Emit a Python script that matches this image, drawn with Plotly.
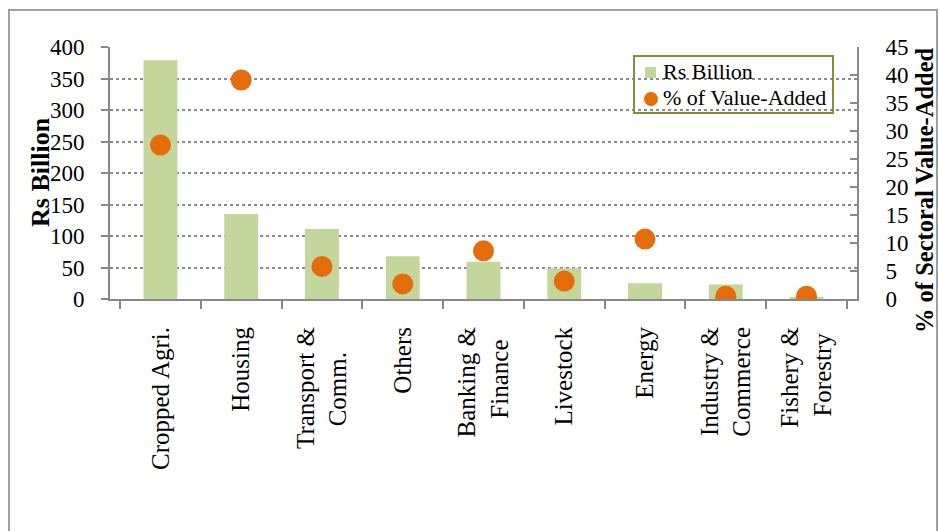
import plotly.graph_objects as go

categories = ["Cropped Agri.", "Housing", "Transport &<br>Comm.\u00a0\u00a0\u00a0\u00a0", "Others",
              "Banking &<br>Finance\u00a0\u00a0", "Livestock", "Energy", "Industry &<br>Commerce",
              "Fishery &<br>Forestry\u00a0"]
rs_billion = [379, 135, 111, 68, 59, 49, 25, 23, 3]
pct_value_added = [27.5, 39.1, 5.8, 2.7, 8.6, 3.2, 10.7, 0.5, 0.5]
left_ticks = [0, 50, 100, 150, 200, 250, 300, 350, 400]
right_ticks = [0, 5, 10, 15, 20, 25, 30, 35, 40, 45]
series_names = ["Rs Billion", "% of Value-Added"]

FONT = "Liberation Serif"
BAR_COLOR = "#C3D69B"
DOT_COLOR = "#E46C0A"

# plot area in pixels
L, R, T, B = 110, 857, 47, 299


def px(x):
    return (x - L) / (R - L)


def py(y):
    return (B - y) / (B - T)


fig = go.Figure()
fig.add_trace(go.Bar(x=categories, y=rs_billion, name=series_names[0],
                     marker=dict(color=BAR_COLOR, line=dict(width=0)), width=0.42))
fig.add_trace(go.Scatter(x=categories, y=pct_value_added, name=series_names[1], mode="markers",
                         marker=dict(color=DOT_COLOR, size=21), yaxis="y2"))

shapes = [
    # outer chart border
    dict(type="rect", xref="paper", yref="paper", x0=px(9), x1=px(937), y0=py(560), y1=py(10),
         line=dict(color="#A0A0A0", width=2), fillcolor="rgba(0,0,0,0)", layer="below"),
    # legend box
    dict(type="rect", xref="paper", yref="paper", x0=px(634), x1=px(833), y0=py(113), y1=py(56),
         line=dict(color="#8C8A3C", width=2), fillcolor="rgba(0,0,0,0)", layer="above"),
    dict(type="rect", xref="paper", yref="paper", x0=px(645), x1=px(656), y0=py(78), y1=py(67),
         line=dict(width=0), fillcolor=BAR_COLOR, layer="above"),
    dict(type="circle", xref="paper", yref="paper", x0=px(644), x1=px(658), y0=py(106), y1=py(92),
         line=dict(width=0), fillcolor=DOT_COLOR, layer="above"),
]

annotations = [
    dict(text="<b>Rs Billion</b>", xref="paper", yref="paper", x=px(40), y=py(172),
         xanchor="center", yanchor="middle", textangle=-90, showarrow=False,
         font=dict(family=FONT, size=26, color="black")),
    dict(text="<b>% of Sectoral Value-Added</b>", xref="paper", yref="paper",
         x=px(924), y=py(190), xanchor="center", yanchor="middle", textangle=-90, showarrow=False,
         font=dict(family=FONT, size=24.5, color="black")),
    dict(text=series_names[0], xref="paper", yref="paper", x=px(661), y=py(71),
         xanchor="left", yanchor="middle", showarrow=False,
         font=dict(family=FONT, size=22, color="black")),
    dict(text=series_names[1], xref="paper", yref="paper", x=px(661), y=py(98),
         xanchor="left", yanchor="middle", showarrow=False,
         font=dict(family=FONT, size=22, color="black")),
]

fig.update_layout(
    width=939, height=531,
    margin=dict(l=L, r=939 - R, t=T, b=531 - B),
    paper_bgcolor="white", plot_bgcolor="white",
    font=dict(family=FONT, color="black", size=23),
    showlegend=False,
    xaxis=dict(showgrid=False, showline=True, linecolor="#888888", linewidth=2,
               ticks="outside", ticklen=8, tickcolor="#888888", tickwidth=2,
               tickson="boundaries", tickangle=-90, ticklabelstandoff=16,
               tickfont=dict(family=FONT, size=25, color="black")),
    yaxis=dict(range=[0, 400], tickvals=left_ticks, showline=True, linecolor="#888888", linewidth=2,
               ticks="outside", ticklen=7, tickcolor="#888888", tickwidth=2, ticklabelstandoff=12,
               showgrid=True, gridcolor="#8a8a8a", griddash="dot", gridwidth=1.5,
               zeroline=False, tickfont=dict(family=FONT, size=23, color="black")),
    yaxis2=dict(range=[0, 45], tickvals=right_ticks, overlaying="y", side="right",
                showline=True, linecolor="#888888", linewidth=2,
                ticks="inside", ticklen=7, tickcolor="#888888", tickwidth=2, ticklabelstandoff=22,
                showgrid=False, zeroline=False, tickfont=dict(family=FONT, size=23, color="black")),
    shapes=shapes,
    annotations=annotations,
)

fig.write_html("out.html")
